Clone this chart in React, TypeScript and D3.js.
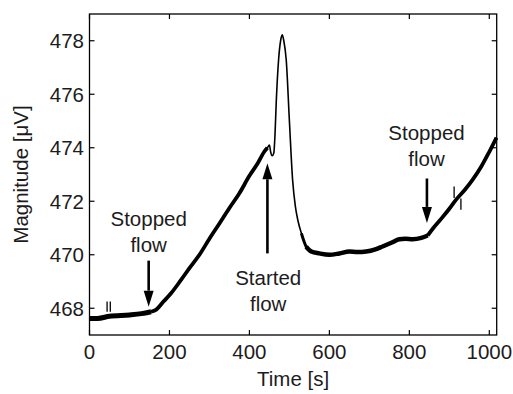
import React from "react";
import * as d3 from "d3";

const timeS = [0, 20, 50, 100, 130, 154, 167, 185, 204, 229, 250, 275, 300, 325, 350, 375, 400, 420, 437, 445, 450, 453, 457, 461, 464, 467, 473, 478, 482, 486, 492, 500, 508, 515, 521, 530, 542, 555, 575, 600, 625, 650, 670, 692, 715, 733, 755, 775, 790, 808, 830, 846, 860, 880, 900, 917, 940, 958, 980, 1000, 1018];
const magnitude = [467.62, 467.62, 467.7, 467.75, 467.8, 467.87, 467.95, 468.25, 468.56, 469.06, 469.5, 470.0, 470.6, 471.17, 471.75, 472.3, 472.95, 473.4, 473.85, 474.0, 474.1, 473.85, 473.7, 473.8, 474.5, 475.67, 477.3, 478.0, 478.22, 478.0, 477.3, 475.0, 472.8, 471.8, 471.3, 470.8, 470.3, 470.12, 470.05, 470.0, 470.05, 470.12, 470.1, 470.12, 470.2, 470.31, 470.45, 470.58, 470.6, 470.58, 470.63, 470.72, 471.0, 471.35, 471.72, 472.06, 472.45, 472.8, 473.3, 473.85, 474.38];

const xTicks = [0, 200, 400, 600, 800, 1000];
const yTicks = [468, 470, 472, 474, 476, 478];

// annotations: arrow time, tip value, tail value
const arrowTimes = [148, 445, 844];
const arrowTips = [468.06, 473.42, 471.19];
const arrowTails = [469.78, 470.05, 472.85];
const labelLines = [["Stopped", "flow"], ["Started", "flow"], ["Stopped", "flow"]];
const labelTimes = [148, 447, 843];
const labelValues = [471.08, 468.87, 474.3]; // value at first-line baseline

// small marker ticks: time, fromValue, toValue
const markerTimes = [44, 52, 912, 929];
const markerFrom = [467.87, 467.87, 472.12, 471.68];
const markerTo = [468.25, 468.25, 472.55, 472.1];

const W = 513, H = 394;
const left = 89.5, right = 496.7, top = 14, bottom = 335;
const FONT = "'Liberation Sans', Arial, sans-serif";
const FS = 20.5;
const TXT = "#1c1c1c";

export default function App() {
  const x = d3.scaleLinear().domain([0, 1018.5]).range([left, right]);
  const y = d3.scaleLinear().domain([467, 479]).range([bottom, top]);
  const pts = timeS.map((t, i) => [t, magnitude[i]] as [number, number]);
  const line = d3.line<[number, number]>().x(d => x(d[0])).y(d => y(d[1])).curve(d3.curveMonotoneX);
  const seg = (a: number, b: number) => line(pts.filter(p => p[0] >= a && p[0] <= b)) || "";
  const tk = 5;
  return (
    <svg width={W} height={H} style={{ position: "absolute", left: 0, top: 0, background: "#fff" }} fontFamily={FONT}>
      <rect x={0} y={0} width={W} height={H} fill="#fff" />
      {/* trace */}
      <path d={seg(0, 1018.5)} fill="none" stroke="#000" strokeWidth={1.6} strokeLinejoin="round" />
      <path d={seg(0, 160)} fill="none" stroke="#000" strokeWidth={5} strokeLinejoin="round" />
      <path d={seg(154, 445)} fill="none" stroke="#000" strokeWidth={3.8} strokeLinejoin="round" />
      <path d={seg(530, 555)} fill="none" stroke="#000" strokeWidth={3} strokeLinejoin="round" />
      <path d={seg(542, 850)} fill="none" stroke="#000" strokeWidth={4.5} strokeLinejoin="round" />
      <path d={seg(846, 1018.5)} fill="none" stroke="#000" strokeWidth={3.8} strokeLinejoin="round" />
      {markerTimes.map((t, i) => (
        <line key={"m" + i} x1={x(t)} x2={x(t)} y1={y(markerFrom[i])} y2={y(markerTo[i])} stroke="#000" strokeWidth={1.3} />
      ))}
      {/* axes box */}
      <rect x={left} y={top} width={right - left} height={bottom - top} fill="none" stroke="#000" strokeWidth={1.3} />
      {xTicks.map(t => (
        <g key={"x" + t}>
          <line x1={x(t)} x2={x(t)} y1={bottom} y2={bottom - tk} stroke="#000" strokeWidth={1.2} />
          <line x1={x(t)} x2={x(t)} y1={top} y2={top + tk} stroke="#000" strokeWidth={1.2} />
          <text x={x(t)} y={359} textAnchor="middle" fontSize={FS} fill={TXT}>{t}</text>
        </g>
      ))}
      {yTicks.map(v => (
        <g key={"y" + v}>
          <line x1={left} x2={left + tk} y1={y(v)} y2={y(v)} stroke="#000" strokeWidth={1.2} />
          <line x1={right} x2={right - tk} y1={y(v)} y2={y(v)} stroke="#000" strokeWidth={1.2} />
          <text x={84} y={y(v)} dy="0.36em" textAnchor="end" fontSize={FS} fill={TXT}>{v}</text>
        </g>
      ))}
      <text x={(left + right) / 2} y={386} textAnchor="middle" fontSize={FS} fill={TXT}>Time [s]</text>
      <text transform={`translate(28,${(top + bottom) / 2}) rotate(-90)`} textAnchor="middle" fontSize={FS} fill={TXT}>Magnitude [μV]</text>
      {/* arrows */}
      {arrowTimes.map((t, i) => {
        const ax = x(t), tipY = y(arrowTips[i]), tailY = y(arrowTails[i]);
        const dir = tailY < tipY ? 1 : -1;
        const hl = 16, hw = 5;
        const baseY = tipY - dir * hl;
        return (
          <g key={"a" + i}>
            <line x1={ax} x2={ax} y1={tailY} y2={baseY} stroke="#000" strokeWidth={2.6} />
            <path d={`M${ax},${tipY} L${ax - hw},${baseY} L${ax + hw},${baseY} Z`} fill="#000" />
          </g>
        );
      })}
      {labelLines.map((ls, i) => (
        <text key={"l" + i} x={x(labelTimes[i])} y={y(labelValues[i])} textAnchor="middle" fontSize={FS} fill={TXT}>
          {ls.map((s, j) => (
            <tspan key={j} x={x(labelTimes[i])} dy={j === 0 ? 0 : 26}>{s}</tspan>
          ))}
        </text>
      ))}
    </svg>
  );
}
